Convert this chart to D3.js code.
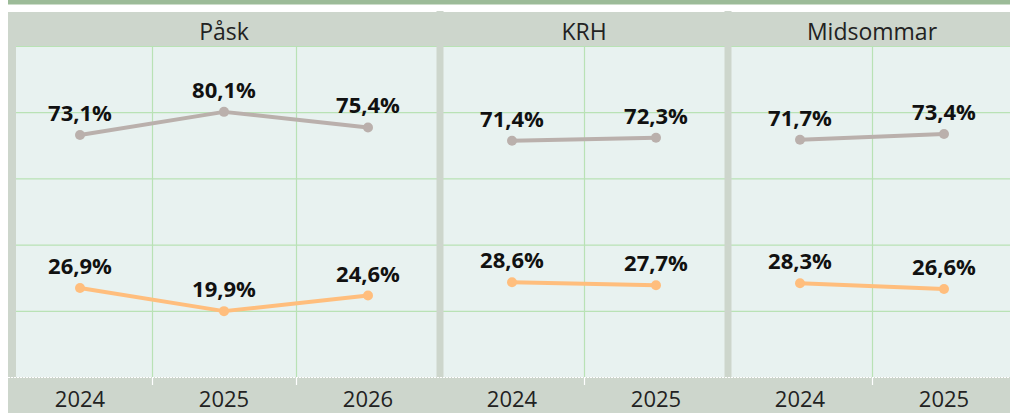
<!DOCTYPE html>
<html>
<head>
<meta charset="utf-8">
<title>Andel per helg</title>
<style>
  body { margin: 0; background: #fff; }
  svg { display: block; font-family: "Open Sans", "Noto Sans", sans-serif; }
</style>
</head>
<body>
<script src="https://d3js.org/d3.v7.min.js"></script>
<script>
// data
const panels = ["Påsk", "KRH", "Midsommar"];
const years = [["2024", "2025", "2026"], ["2024", "2025"], ["2024", "2025"]];
const upperValues = [[73.1, 80.1, 75.4], [71.4, 72.3], [71.7, 73.4]];
const lowerValues = [[26.9, 19.9, 24.6], [28.6, 27.7], [28.3, 26.6]];
const yTicks = [0, 20, 40, 60, 80, 100];

const width = 1010, height = 413;
const left = 8, colW = 144;
const headTop = 12, plotTop = 46, plotBottom = 377;

const grey = "#bab0ac", orange = "#ffbe7d";
const band = "#cdd6cc";

// one column per panel/year
var cols = [];
panels.forEach(function(p, i) {
    years[i].forEach(function(y, j) {
        cols.push({ key: p + "|" + y, panel: i, year: y, up: upperValues[i][j], low: lowerValues[i][j] });
    });
});

var x = d3.scaleBand()
    .domain(cols.map(d => d.key))
    .range([left, left + colW * cols.length]);

var y = d3.scaleLinear()
    .domain([0, 100])
    .range([plotBottom, plotTop]);

var svg = d3.select("body").append("svg")
    .attr("width", width)
    .attr("height", height);

// top green strip
svg.append("rect").attr("x", left).attr("y", 0)
    .attr("width", width - left).attr("height", 4.5).attr("fill", "#9cbb98");

// header band
svg.append("rect").attr("x", left).attr("y", headTop)
    .attr("width", width - left).attr("height", plotTop - headTop).attr("fill", band);

// plot background
svg.append("rect").attr("x", left).attr("y", plotTop)
    .attr("width", width - left).attr("height", plotBottom - plotTop).attr("fill", "#e8f2f0");

// horizontal grid
svg.append("g").selectAll("line")
    .data(yTicks.filter(t => t > 0))
    .enter().append("line")
    .attr("x1", left).attr("x2", width)
    .attr("y1", d => y(d) + 0.5).attr("y2", d => y(d) + 0.5)
    .attr("stroke", "#b9e2b5").attr("stroke-width", 1.2);

// panel boundaries
var firstIdx = [], lastIdx = [];
panels.forEach(function(p, i) {
    var c = cols.filter(d => d.panel === i);
    firstIdx.push(c[0].key);
    lastIdx.push(c[c.length - 1].key);
});

// vertical grid inside panels
var inner = cols.filter(d => firstIdx.indexOf(d.key) < 0);
svg.append("g").selectAll("line")
    .data(inner)
    .enter().append("line")
    .attr("x1", d => x(d.key) + 0.5).attr("x2", d => x(d.key) + 0.5)
    .attr("y1", plotTop).attr("y2", plotBottom)
    .attr("stroke", "#b9e2b5").attr("stroke-width", 1.2);

// panel separators and left border
svg.append("rect").attr("x", left).attr("y", headTop)
    .attr("width", 8).attr("height", plotBottom - headTop).attr("fill", band);
svg.append("g").selectAll("rect")
    .data(firstIdx.slice(1))
    .enter().append("rect")
    .attr("x", d => x(d) - 3.5).attr("y", 11)
    .attr("width", 7).attr("height", plotBottom - 11)
    .attr("fill", band);

// headers
svg.append("g").selectAll("text")
    .data(panels)
    .enter().append("text")
    .attr("x", function(d, i) {
        return (x(firstIdx[i]) + x(lastIdx[i]) + colW) / 2;
    })
    .attr("y", 40)
    .attr("text-anchor", "middle")
    .attr("font-size", 23)
    .attr("fill", "#222")
    .text(d => d);

// bottom axis band
svg.append("rect").attr("x", left).attr("y", plotBottom)
    .attr("width", width - left).attr("height", height - plotBottom).attr("fill", band);
svg.append("line")
    .attr("x1", left).attr("x2", width)
    .attr("y1", plotBottom + 0.5).attr("y2", plotBottom + 0.5)
    .attr("stroke", "#fff").attr("stroke-dasharray", "2,1");

var xAxis = svg.append("g")
    .attr("transform", "translate(0," + plotBottom + ")")
    .call(d3.axisBottom(x).tickSize(0).tickPadding(14)
        .tickFormat(k => k.split("|")[1]));
xAxis.select(".domain").remove();
xAxis.selectAll("text")
    .attr("font-family", "'Open Sans', sans-serif")
    .attr("font-size", 22)
    .attr("fill", "#222");

// small white ticks between columns
svg.append("g").selectAll("line")
    .data(inner)
    .enter().append("line")
    .attr("x1", d => x(d.key) + 0.5).attr("x2", d => x(d.key) + 0.5)
    .attr("y1", plotBottom).attr("y2", plotBottom + 8)
    .attr("stroke", "#fff").attr("stroke-width", 1.2);

// lines
var cx = d => x(d.key) + x.bandwidth() / 2;
var series = [{ f: "up", color: grey }, { f: "low", color: orange }];

panels.forEach(function(p, i) {
    var c = cols.filter(d => d.panel === i);
    series.forEach(function(s) {
        var line = d3.line().x(cx).y(d => y(d[s.f]));
        svg.append("path")
            .datum(c)
            .attr("d", line)
            .attr("fill", "none")
            .attr("stroke", s.color)
            .attr("stroke-width", 4)
            .attr("stroke-linejoin", "round");
        svg.append("g").selectAll("circle")
            .data(c)
            .enter().append("circle")
            .attr("cx", cx)
            .attr("cy", d => y(d[s.f]))
            .attr("r", 5)
            .attr("fill", s.color);
        svg.append("g").selectAll("text")
            .data(c)
            .enter().append("text")
            .attr("x", cx)
            .attr("y", d => y(d[s.f]) - 14)
            .attr("text-anchor", "middle")
            .attr("font-size", 22)
            .attr("font-weight", "bold")
            .attr("fill", "#111")
            .text(d => d3.format(".1f")(d[s.f]).replace(".", ",") + "%");
    });
});
</script>
</body>
</html>
